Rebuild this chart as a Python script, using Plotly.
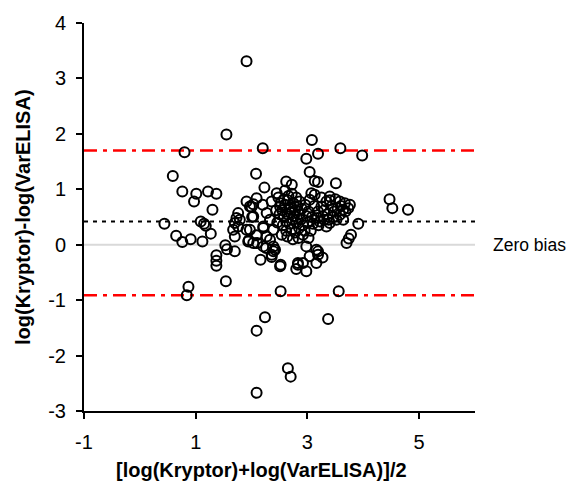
import plotly.graph_objects as go

# Bland-Altman data: mean of logs (x) and difference of logs (y)
mean_log = [
    1.91, 1.55, 0.80, 2.20, 2.98, 3.08, 3.19, 3.59, 3.98, 0.59,
    0.76, 1.01, 0.97, 1.22, 1.37, 1.30, 0.44, 1.09, 1.15, 1.18,
    1.27, 0.65, 0.76, 0.91, 1.12, 1.53, 1.56, 1.37, 1.37, 1.37,
    1.54, 0.87, 0.84, 2.52, 3.56, 2.24, 2.09, 3.37, 2.65, 2.70,
    2.09, 4.47, 4.52, 4.80, 3.91, 3.78, 3.74, 3.70, 2.08, 3.04,
    3.51, 2.23, 2.62, 2.72, 3.13, 3.19, 2.16, 2.52, 2.80, 2.83,
    2.98, 3.16, 3.27, 3.19, 2.10, 1.91, 2.03, 2.09, 2.00, 2.20,
    2.01, 1.76, 1.73, 1.70, 1.76, 1.67, 1.79, 1.91, 1.70, 1.95,
    1.70, 2.26, 2.39, 2.36, 2.51, 2.27, 2.33, 2.45, 2.51, 2.39,
    2.54, 2.36, 1.94, 3.07, 3.13, 3.04,
    3.40, 3.34, 3.25, 3.19, 3.28, 3.58, 3.67, 3.76, 3.73, 3.64,
    3.58, 3.52, 3.64, 3.40, 3.34, 2.98, 3.16, 3.19, 3.04, 2.92,
    2.83, 2.21, 2.27, 2.33, 2.21, 2.39, 2.36, 2.42,
    2.55, 2.60, 2.65, 2.70, 2.75, 2.58, 2.64, 2.70, 2.78, 2.85,
    2.62, 2.68, 2.74, 2.80, 2.88, 2.92, 2.72, 2.78, 2.85, 2.95,
    3.00, 2.66, 2.72, 2.80, 2.58, 2.52, 2.50, 2.56, 2.62, 2.90,
    2.96, 3.02, 3.08, 2.98, 2.82, 2.86, 2.68, 2.76, 2.92, 3.02,
    3.06, 2.84, 2.74, 2.64, 2.60, 2.48, 2.44, 2.46, 3.10, 3.12,
    3.18, 3.22, 3.30, 3.36, 3.44, 3.48, 3.46, 3.54, 3.60, 3.68,
    3.40, 3.50, 3.25, 3.20, 3.30, 3.38,
    1.97, 2.03, 1.97, 2.09, 2.21, 2.03,
]
diff_log = [
    3.31, 1.99, 1.67, 1.74, 1.55, 1.89, 1.64, 1.74, 1.61, 1.24,
    0.96, 0.92, 0.78, 0.96, 0.92, 0.63, 0.38, 0.42, 0.38, 0.34,
    0.20, 0.16, 0.05, 0.10, 0.06, -0.01, -0.08, -0.19, -0.29, -0.38,
    -0.66, -0.76, -0.91, -0.84, -0.84, -1.31, -1.55, -1.34, -2.23, -2.38,
    -2.67, 0.82, 0.66, 0.63, 0.38, 0.18, 0.11, 0.03, 1.28, 1.31,
    1.11, 1.03, 1.14, 1.08, 1.15, 1.13, -0.27, -0.36, -0.44, -0.33,
    -0.48, -0.33, -0.23, -0.12, 0.03, 0.78, 0.73, 0.84, 0.68, 0.72,
    0.50, 0.57, 0.48, 0.39, 0.33, 0.27, 0.45, 0.27, 0.15, 0.08,
    -0.12, -0.06, -0.12, -0.22, -0.39, 0.57, 0.45, 0.93, 0.69, 0.27,
    0.18, 0.78, 0.06, 0.93, 0.90, 0.81,
    0.87, 0.78, 0.69, 0.60, 0.51, 0.78, 0.75, 0.72, 0.66, 0.63,
    0.54, 0.45, 0.45, 0.39, 0.33, -0.03, -0.09, -0.18, -0.21, -0.33,
    -0.36, 0.30, 0.15, 0.09, -0.03, -0.03, -0.18, -0.09,
    0.62, 0.72, 0.80, 0.68, 0.75, 0.50, 0.55, 0.58, 0.62, 0.55,
    0.42, 0.38, 0.46, 0.40, 0.45, 0.35, 0.28, 0.22, 0.30, 0.25,
    0.40, 0.88, 0.92, 0.85, 0.82, 0.75, 0.55, 0.35, 0.25, 0.65,
    0.72, 0.60, 0.50, 0.52, 0.70, 0.78, 0.65, 0.52, 0.18, 0.12,
    0.25, 0.12, 0.10, 0.15, 0.98, 0.85, 0.62, 0.40, 0.38, 0.70,
    0.48, 0.42, 0.62, 0.55, 0.70, 0.60, 0.50, 0.66, 0.70, 0.60,
    0.80, 0.82, 0.85, 0.35, 0.45, 0.45,
    0.69, 0.51, 0.27, 0.17, 0.33, 0.03,
]

mean_bias = 0.42
upper_loa = 1.70
lower_loa = -0.91
x_ticks = [-1, 1, 3, 5]
x_tick_labels = ["-1", "1", "3", "5"]
y_ticks = [-3, -2, -1, 0, 1, 2, 3, 4]
y_tick_labels = ["-3", "-2", "-1", "0", "1", "2", "3", "4"]

FONT = "Arial, Liberation Sans, sans-serif"

fig = go.Figure()
fig.add_trace(go.Scatter(
    x=mean_log, y=diff_log, mode="markers",
    marker=dict(symbol="circle-open", size=10, color="black",
                line=dict(width=2, color="black")),
    showlegend=False, hoverinfo="x+y",
))

# zero line, bias, limits of agreement
fig.add_shape(type="line", xref="x", yref="y", x0=-1, x1=6, y0=0, y1=0,
              line=dict(color="#d9d9d9", width=2), layer="below")
fig.add_shape(type="line", xref="x", yref="y", x0=-1, x1=6, y0=mean_bias, y1=mean_bias,
              line=dict(color="black", width=2, dash="4px,5px"), layer="below")
for v in (upper_loa, lower_loa):
    fig.add_shape(type="line", xref="x", yref="y", x0=-1, x1=6, y0=v, y1=v,
                  line=dict(color="#ff0000", width=2.5, dash="13px,6px,4px,6px"),
                  layer="below")

fig.add_annotation(x=1, xref="paper", xanchor="left", xshift=16, y=0, yref="y",
                   text="Zero bias", showarrow=False,
                   font=dict(family=FONT, size=17.5, color="black"))
fig.add_annotation(x=0.455, xref="paper", y=0, yref="paper", yanchor="middle",
                   yshift=-59, text="<b>[log(Kryptor)+log(VarELISA)]/2</b>",
                   showarrow=False, font=dict(family=FONT, size=20, color="black"))
fig.add_annotation(x=0, xref="paper", xanchor="center", xshift=-61, y=0.5, yref="paper",
                   text="<b>log(Kryptor)-log(VarELISA)</b>", textangle=-90,
                   showarrow=False, font=dict(family=FONT, size=20, color="black"))

fig.update_layout(
    width=571, height=497,
    margin=dict(l=84, r=96, t=20, b=86),
    plot_bgcolor="white", paper_bgcolor="white",
    font=dict(family=FONT, size=20, color="black"),
    xaxis=dict(range=[-1, 6], tickvals=x_ticks, ticktext=x_tick_labels,
               showgrid=False, zeroline=False,
               showline=True, linecolor="black", linewidth=2,
               ticks="outside", ticklen=6, tickwidth=2, tickcolor="black",
               ticklabelstandoff=6),
    yaxis=dict(range=[-3, 4], tickvals=y_ticks, ticktext=y_tick_labels,
               showgrid=False, zeroline=False,
               showline=True, linecolor="black", linewidth=2,
               ticks="outside", ticklen=6, tickwidth=2, tickcolor="black",
               ticklabelstandoff=6),
)

fig.write_html("out.html")
